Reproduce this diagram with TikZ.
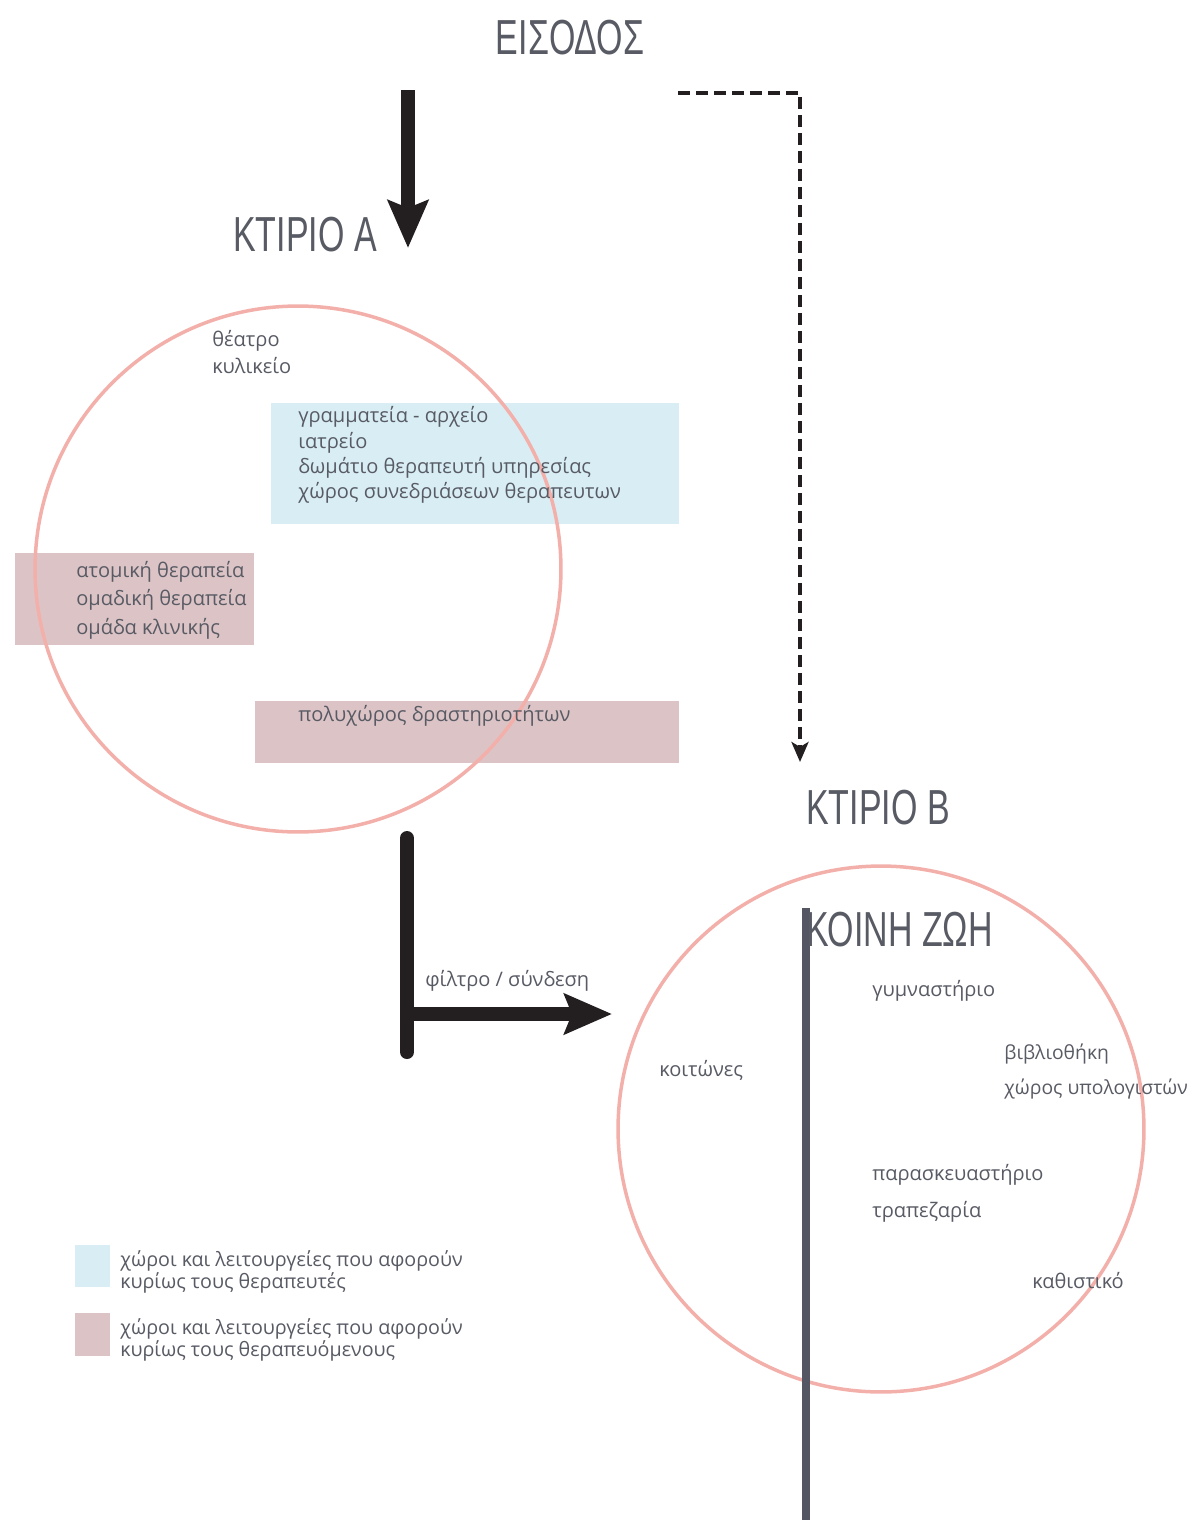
\documentclass[tikz,border=0pt]{standalone}
\usepackage{fontspec}
\usetikzlibrary{arrows.meta}
\newfontfamily\headfont[FakeStretch=0.69]{Liberation Sans}
\newfontfamily\bodyfont{Open Sans}
\definecolor{roz}{RGB}{243,176,170}
\definecolor{galazio}{RGB}{216,238,244}
\definecolor{mov}{RGB}{220,196,198}
\definecolor{gri}{RGB}{88,90,100}
\definecolor{mavro}{RGB}{35,31,32}
\definecolor{raxi}{RGB}{84,86,99}

\begin{document}
\begin{tikzpicture}[x=0.02cm,y=-0.02cm,
  titlos/.style={font=\headfont\fontsize{28}{30}\selectfont, text=gri, inner sep=0},
  keimeno/.style={font=\bodyfont\fontsize{11.4}{15}\selectfont, text=gri, inner sep=0, anchor=west, align=left},
  ypomnima/.style={keimeno, font=\bodyfont\fontsize{11.2}{11.4}\selectfont},
  ktirio/.style={circle, draw=roz, line width=0.07cm, minimum size=10.52cm, inner sep=0},
  belos/.style={mavro, line width=0.28cm, -{Stealth[length=0.95cm,width=0.8cm,inset=0.15cm]}},
  diadromi/.style={mavro, line width=0.08cm, dash pattern=on 0.24cm off 0.12cm, -{Stealth[length=0.4cm,width=0.34cm,inset=0.1cm]}}]
\useasboundingbox (0,0) rectangle (1201,1520);

\fill [galazio] (271,403) rectangle (679,524);
\fill [mov] (15,553) rectangle (254,645);
\fill [mov] (255,701) rectangle (679,763);
\fill [galazio] (75,1245) rectangle (110,1287);
\fill [mov] (75,1313) rectangle (110,1356);

\node [ktirio] (ktirioA) at (298,569) {};
\node [ktirio] (ktirioB) at (881,1129) {};

\node [titlos] (eisodos) at (570,38) {ΕΙΣΟΔΟΣ};
\node [titlos] (titlosA) at (305,235) {ΚΤΙΡΙΟ Α};
\node [titlos] (titlosB) at (878,808) {ΚΤΙΡΙΟ Β};

\coordinate (apoA) at (408,90);
\coordinate (proA) at (408,248);
\coordinate (apoB) at (678,93);
\coordinate (proB) at (800,762);
\coordinate (filtroPano) at (407,838);
\coordinate (filtroKato) at (407,1052);
\coordinate (filtroGonia) at (407,1014);
\coordinate (filtroTelos) at (612,1014);
\coordinate (raxiPano) at (806,908);
\coordinate (raxiKato) at (806,1520);

\draw [belos] (apoA) -- (proA);
\draw [diadromi] (apoB) -| (proB);
\draw [mavro, line width=0.28cm, line cap=round] (filtroPano) -- (filtroKato);
\draw [belos] (filtroGonia) -- (filtroTelos);
\draw [raxi, line width=0.16cm] (raxiPano) -- (raxiKato);

\node [titlos, anchor=west] (koinh) at (806,930) {ΚΟΙΝΗ ΖΩΗ};

\node [keimeno] (theatro) at (212,352) {θέατρο\\κυλικείο};
\node [keimeno, font=\bodyfont\fontsize{11.4}{14.4}\selectfont] (grammateia) at (298,455) {γραμματεία - αρχείο\\ιατρείο\\δωμάτιο θεραπευτή υπηρεσίας\\χώρος συνεδριάσεων θεραπευτων};
\node [keimeno, font=\bodyfont\fontsize{11.4}{16.2}\selectfont] (therapeia) at (76,600) {ατομική θεραπεία\\ομαδική θεραπεία\\ομάδα κλινικής};
\node [keimeno] (polyxoros) at (298,716) {πολυχώρος δραστηριοτήτων};
\node [keimeno, anchor=south west] (filtro) at (425,992) {φίλτρο / σύνδεση};

\node [keimeno] (koitones) at (659,1070) {κοιτώνες};
\node [keimeno] (gymnastirio) at (872,991) {γυμναστήριο};
\node [keimeno, font=\bodyfont\fontsize{11}{19.9}\selectfont] (vivliothiki) at (1004,1072) {βιβλιοθήκη\\χώρος υπολογιστών};
\node [keimeno, font=\bodyfont\fontsize{11.4}{21}\selectfont] (trapezaria) at (872,1193) {παρασκευαστήριο\\τραπεζαρία};
\node [keimeno] (kathistiko) at (1032,1281) {καθιστικό};

\node [ypomnima] (ypomnimaA) at (120,1272) {χώροι και λειτουργείες που αφορούν\\κυρίως τους θεραπευτές};
\node [ypomnima] (ypomnimaB) at (120,1340) {χώροι και λειτουργείες που αφορούν\\κυρίως τους θεραπευόμενους};

\end{tikzpicture}
\end{document}
